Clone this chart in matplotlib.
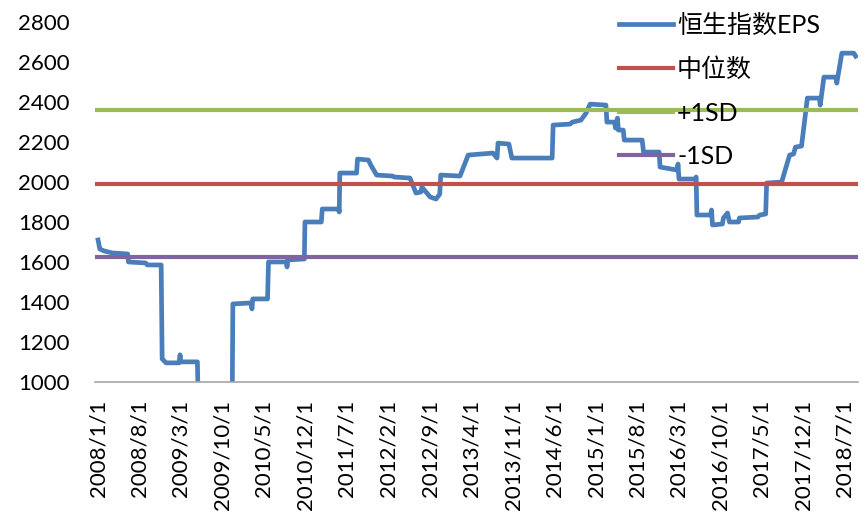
"""Hang Seng Index EPS with median and +/-1SD bands."""

import matplotlib as mpl
mpl.use("Agg")
import matplotlib.pyplot as plt
import pandas as pd


# EPS readings (change points)
EPS_DATES = [
    "2008-01-01", "2008-01-10", "2008-02-01", "2008-03-15", "2008-06-01", "2008-06-05",
    "2008-09-01", "2008-09-10", "2008-11-20", "2008-11-25", "2008-12-15", "2009-02-20",
    "2009-02-25", "2009-03-01", "2009-05-25", "2009-05-28", "2009-11-20", "2009-11-23",
    "2010-02-25", "2010-03-01", "2010-03-05", "2010-05-20", "2010-05-25", "2010-08-25",
    "2010-08-28", "2010-09-01", "2010-11-25", "2010-11-28", "2011-02-20", "2011-02-25",
    "2011-05-20", "2011-05-23", "2011-05-26", "2011-08-20", "2011-08-25", "2011-10-20",
    "2011-11-01", "2011-12-01", "2012-02-20", "2012-03-01", "2012-05-20", "2012-06-20",
    "2012-07-15", "2012-07-20", "2012-09-01", "2012-10-01", "2012-10-20", "2012-10-25",
    "2013-02-01", "2013-03-15", "2013-07-20", "2013-08-10", "2013-08-15", "2013-10-10",
    "2013-10-25", "2014-05-20", "2014-05-25", "2014-08-20", "2014-09-01", "2014-10-15",
    "2014-11-10", "2014-12-01", "2015-02-20", "2015-02-25", "2015-04-05", "2015-04-10",
    "2015-04-20", "2015-04-25", "2015-05-20", "2015-05-25", "2015-08-25", "2015-09-01",
    "2015-11-20", "2015-11-25", "2016-02-20", "2016-02-25", "2016-03-01", "2016-05-25",
    "2016-05-28", "2016-06-01", "2016-08-10", "2016-08-15", "2016-08-20", "2016-10-10",
    "2016-10-15", "2016-11-05", "2016-11-15", "2017-01-01", "2017-01-05", "2017-04-10",
    "2017-04-20", "2017-05-20", "2017-05-25", "2017-08-10", "2017-09-20", "2017-10-10",
    "2017-10-20", "2017-11-20", "2017-12-20", "2018-02-20", "2018-02-24", "2018-03-15",
    "2018-05-15", "2018-05-20", "2018-06-15", "2018-08-15", "2018-08-25",
]
EPS_VALUES = [
    1710, 1665, 1655, 1645, 1640, 1600,
    1595, 1585, 1585, 1115, 1095, 1095,
    1135, 1100, 1100, 950, 950, 1390,
    1395, 1365, 1415, 1415, 1600, 1600,
    1575, 1610, 1615, 1800, 1800, 1865,
    1865, 1850, 2045, 2045, 2115, 2110,
    2085, 2035, 2030, 2025, 2020, 1945,
    1950, 1975, 1925, 1915, 1940, 2035,
    2030, 2135, 2145, 2120, 2195, 2190,
    2120, 2120, 2285, 2290, 2300, 2310,
    2345, 2390, 2385, 2300, 2300, 2270,
    2320, 2260, 2260, 2210, 2210, 2150,
    2150, 2075, 2060, 2090, 2015, 2015,
    2025, 1835, 1835, 1860, 1785, 1790,
    1820, 1845, 1800, 1800, 1820, 1825,
    1835, 1840, 1995, 2000, 2135, 2140,
    2175, 2180, 2420, 2420, 2385, 2525,
    2525, 2495, 2645, 2645, 2630,
]

MEDIAN = 1990
PLUS_1SD = 2362
MINUS_1SD = 1625

SERIES_LABELS = ["恒生指数EPS", "中位数", "+1SD", "-1SD"]
Y_TICKS = [1000, 1200, 1400, 1600, 1800, 2000, 2200, 2400, 2600, 2800]
X_TICK_LABELS = [
    "2008/1/1", "2008/8/1", "2009/3/1", "2009/10/1", "2010/5/1", "2010/12/1",
    "2011/7/1", "2012/2/1", "2012/9/1", "2013/4/1", "2013/11/1", "2014/6/1",
    "2015/1/1", "2015/8/1", "2016/3/1", "2016/10/1", "2017/5/1", "2017/12/1",
    "2018/7/1",
]


def main() -> None:
    mpl.rcParams.update(
        {
            "font.family": ["Lato", "Noto Sans CJK SC", "DejaVu Sans"],
            "font.size": 16,
            "axes.spines.top": False,
            "axes.spines.right": False,
            "axes.spines.left": False,
        }
    )

    dates = pd.to_datetime(EPS_DATES)
    tick_dates = pd.to_datetime(X_TICK_LABELS, format="%Y/%m/%d")

    fig = plt.figure(figsize=(8.63, 5.16), dpi=100)
    ax = fig.add_axes([0.110, 0.260, 0.884, 0.697])

    ax.plot(dates, EPS_VALUES, color="#4a7ebb", linewidth=3.4, label=SERIES_LABELS[0],
            solid_joinstyle="round", zorder=2)
    ax.axhline(MEDIAN, color="#c0504d", linewidth=3.0, label=SERIES_LABELS[1], zorder=3)
    ax.axhline(PLUS_1SD, color="#9bbb59", linewidth=3.0, label=SERIES_LABELS[2], zorder=3)
    ax.axhline(MINUS_1SD, color="#8064a2", linewidth=3.0, label=SERIES_LABELS[3], zorder=3)

    ax.set_ylim(Y_TICKS[0], Y_TICKS[-1])
    ax.set_yticks(Y_TICKS)
    ax.set_xlim(pd.Timestamp("2007-12-16"), pd.Timestamp("2018-09-05"))
    ax.set_xticks(tick_dates)
    ax.set_xticklabels(X_TICK_LABELS, rotation=90)
    ax.tick_params(axis="y", length=0, pad=18, labelsize=16)
    ax.tick_params(axis="x", length=0, pad=13, labelsize=16)
    ax.spines["bottom"].set_color("#a6a6a6")
    ax.spines["bottom"].set_linewidth(1.2)

    ax.legend(
        loc="upper left",
        bbox_to_anchor=(0.687, 1.024),
        frameon=False,
        fontsize=18,
        handlelength=2.16,
        handletextpad=0.16,
        labelspacing=0.82,
        borderaxespad=0,
        borderpad=0,
    )

    fig.savefig("out.png", dpi=100)


if __name__ == "__main__":
    main()
